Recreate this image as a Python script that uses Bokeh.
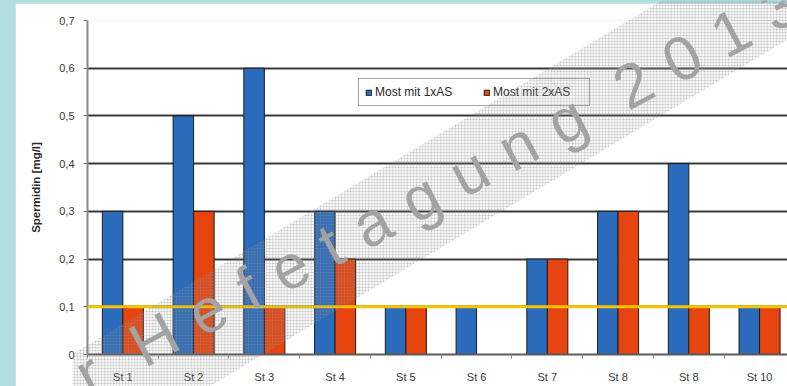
import numpy as np
from bokeh.plotting import figure
from bokeh.models import FixedTicker, CustomJSTickFormatter, Span, Label
from bokeh.layouts import column
from bokeh.embed import file_html
from bokeh.resources import INLINE

# --- data -------------------------------------------------------------
stations = ["St 1", "St 2", "St 3", "St 4", "St 5",
            "St 6", "St 7", "St 8", "St 8", "St 10"]
most_1xas = [0.3, 0.5, 0.6, 0.3, 0.1, 0.1, 0.2, 0.3, 0.4, 0.1]
most_2xas = [0.1, 0.3, 0.1, 0.2, 0.1, 0.0, 0.2, 0.3, 0.1, 0.1]
y_ticks = [0.0, 0.1, 0.2, 0.3, 0.4, 0.5, 0.6, 0.7]
limit_value = 0.1
series_names = ["Most mit 1xAS", "Most mit 2xAS"]

# watermark: letter-spaced words
GAP = "\u2004"          # three-per-em space between letters
WORD = "\u2004\u2004"   # wider gap between words
watermark_words = ["r", "Hefetagung", "2013"]
watermark_text = WORD.join(GAP.join(w) for w in watermark_words)

# --- style ------------------------------------------------------------
FONT = "Liberation Sans"
BLUE = "#2b6bbb"
RED = "#e6450f"
YELLOW = "#f6c500"
PAGE_BG = "#b4dde1"
PAGE_W, PAGE_H = 787, 386

n = len(stations)
idx = np.arange(n)
bar_w = 0.29
x_end = 9.895

p = figure(width=772, height=383, x_range=(0, x_end), y_range=(0, 0.7),
           output_backend="svg", toolbar_location=None,
           min_border_left=72, min_border_right=0,
           min_border_top=17, min_border_bottom=32,
           background_fill_color="white", border_fill_color="white",
           outline_line_color=None)
p.margin = (3, 0, 0, 15)

# bars
p.vbar(x=idx + 0.5 - bar_w / 2, top=most_1xas, bottom=0, width=bar_w,
       fill_color=BLUE, line_color="#1d1d1d", line_width=1,
       legend_label=series_names[0])
p.vbar(x=idx + 0.5 + bar_w / 2, top=most_2xas, bottom=0, width=bar_w,
       fill_color=RED, line_color="#1d1d1d", line_width=1,
       legend_label=series_names[1])

# limit line
p.add_layout(Span(location=limit_value, dimension="width",
                  line_color=YELLOW, line_width=3))

# grid
p.xgrid.grid_line_color = None
p.ygrid.ticker = FixedTicker(ticks=y_ticks)
p.ygrid.grid_line_color = "#3a3a3a"
p.ygrid.grid_line_width = 1.8

# y axis
ya = p.yaxis[0]
ya.ticker = FixedTicker(ticks=y_ticks, minor_ticks=[])
ya.formatter = CustomJSTickFormatter(
    code="return tick == 0 ? '0' : tick.toFixed(1).replace('.', ',');")
ya.axis_line_color = "#8a8a8a"
ya.axis_line_width = 2
ya.major_tick_line_color = "#7a7a7a"
ya.major_tick_out = 4
ya.major_tick_in = 0
ya.minor_tick_line_color = None
ya.major_label_standoff = 9
ya.major_label_text_font = FONT
ya.major_label_text_font_size = "11px"
ya.major_label_text_color = "#3a3a3a"
ya.axis_label = "Spermidin [mg/l]"
ya.axis_label_text_font = FONT
ya.axis_label_text_font_size = "11.5px"
ya.axis_label_text_font_style = "bold"
ya.axis_label_text_color = "#2a2a2a"
ya.axis_label_standoff = 14

# x axis
xa = p.xaxis[0]
xa.ticker = FixedTicker(ticks=list(idx + 0.5), minor_ticks=list(range(n + 1)))
xa.formatter = CustomJSTickFormatter(
    args=dict(labels=stations),
    code="return labels[Math.round(tick - 0.5)];")
xa.axis_line_color = "#5a5a5a"
xa.axis_line_width = 2
xa.major_tick_line_color = None
xa.major_tick_out = 0
xa.major_tick_in = 0
xa.minor_tick_line_color = "#8a8a8a"
xa.minor_tick_out = 4
xa.minor_tick_in = 0
xa.major_label_standoff = 12
xa.major_label_text_font = FONT
xa.major_label_text_font_size = "11px"
xa.major_label_text_color = "#3a3a3a"

# legend
lg = p.legend[0]
lg.location = (271, 248)
lg.orientation = "horizontal"
lg.border_line_color = "#4a4a4a"
lg.border_line_width = 1.5
lg.background_fill_color = "white"
lg.background_fill_alpha = 1
lg.label_text_font = FONT
lg.label_text_font_size = "12px"
lg.label_text_color = "#2a2a2a"
lg.glyph_width = 7
lg.glyph_height = 7
lg.label_standoff = 3
lg.label_width = 90
lg.label_height = 12
lg.spacing = 18
lg.padding = 6
lg.margin = 0

# --- transparent overlay for the diagonal watermark ------------------------
# coordinates are page pixels, y measured upward from the page bottom
ov = figure(width=PAGE_W, height=PAGE_H, x_range=(0, PAGE_W), y_range=(0, PAGE_H),
            output_backend="svg", toolbar_location=None,
            x_axis_location=None, y_axis_location=None, min_border=0,
            outline_line_color=None, background_fill_alpha=0,
            border_fill_alpha=0)
ov.grid.visible = False
ov.styles = {"position": "absolute", "left": "0px", "top": "0px"}

theta = np.deg2rad(28.0)
slope = np.tan(np.deg2rad(28.6))
band_x = np.array([-50.0, PAGE_W + 50.0])
# upper and lower edge of the screened band (page y from top)
upper = 110 - (band_x - 447) * slope
lower = 224.6 - (band_x - 447) * slope
ov.patch(x=list(band_x) + list(band_x[::-1]),
         y=list(PAGE_H - upper) + list(PAGE_H - lower[::-1]),
         fill_color="#9a9a9a", fill_alpha=0.08, line_color=None,
         hatch_pattern="+", hatch_scale=3, hatch_weight=0.6,
         hatch_color="#8c8c8c", hatch_alpha=0.4)

ov.add_layout(Label(x=8, y=PAGE_H - 378, text=watermark_text, angle=float(theta),
                    text_font=FONT, text_font_size="62px",
                    text_color="#a3a3a3", text_align="left",
                    text_baseline="alphabetic"))

root = column(p, ov, width=PAGE_W, height=PAGE_H,
              styles={"background-color": PAGE_BG, "position": "relative"})

open("out.html", "w").write(file_html(root, INLINE))
